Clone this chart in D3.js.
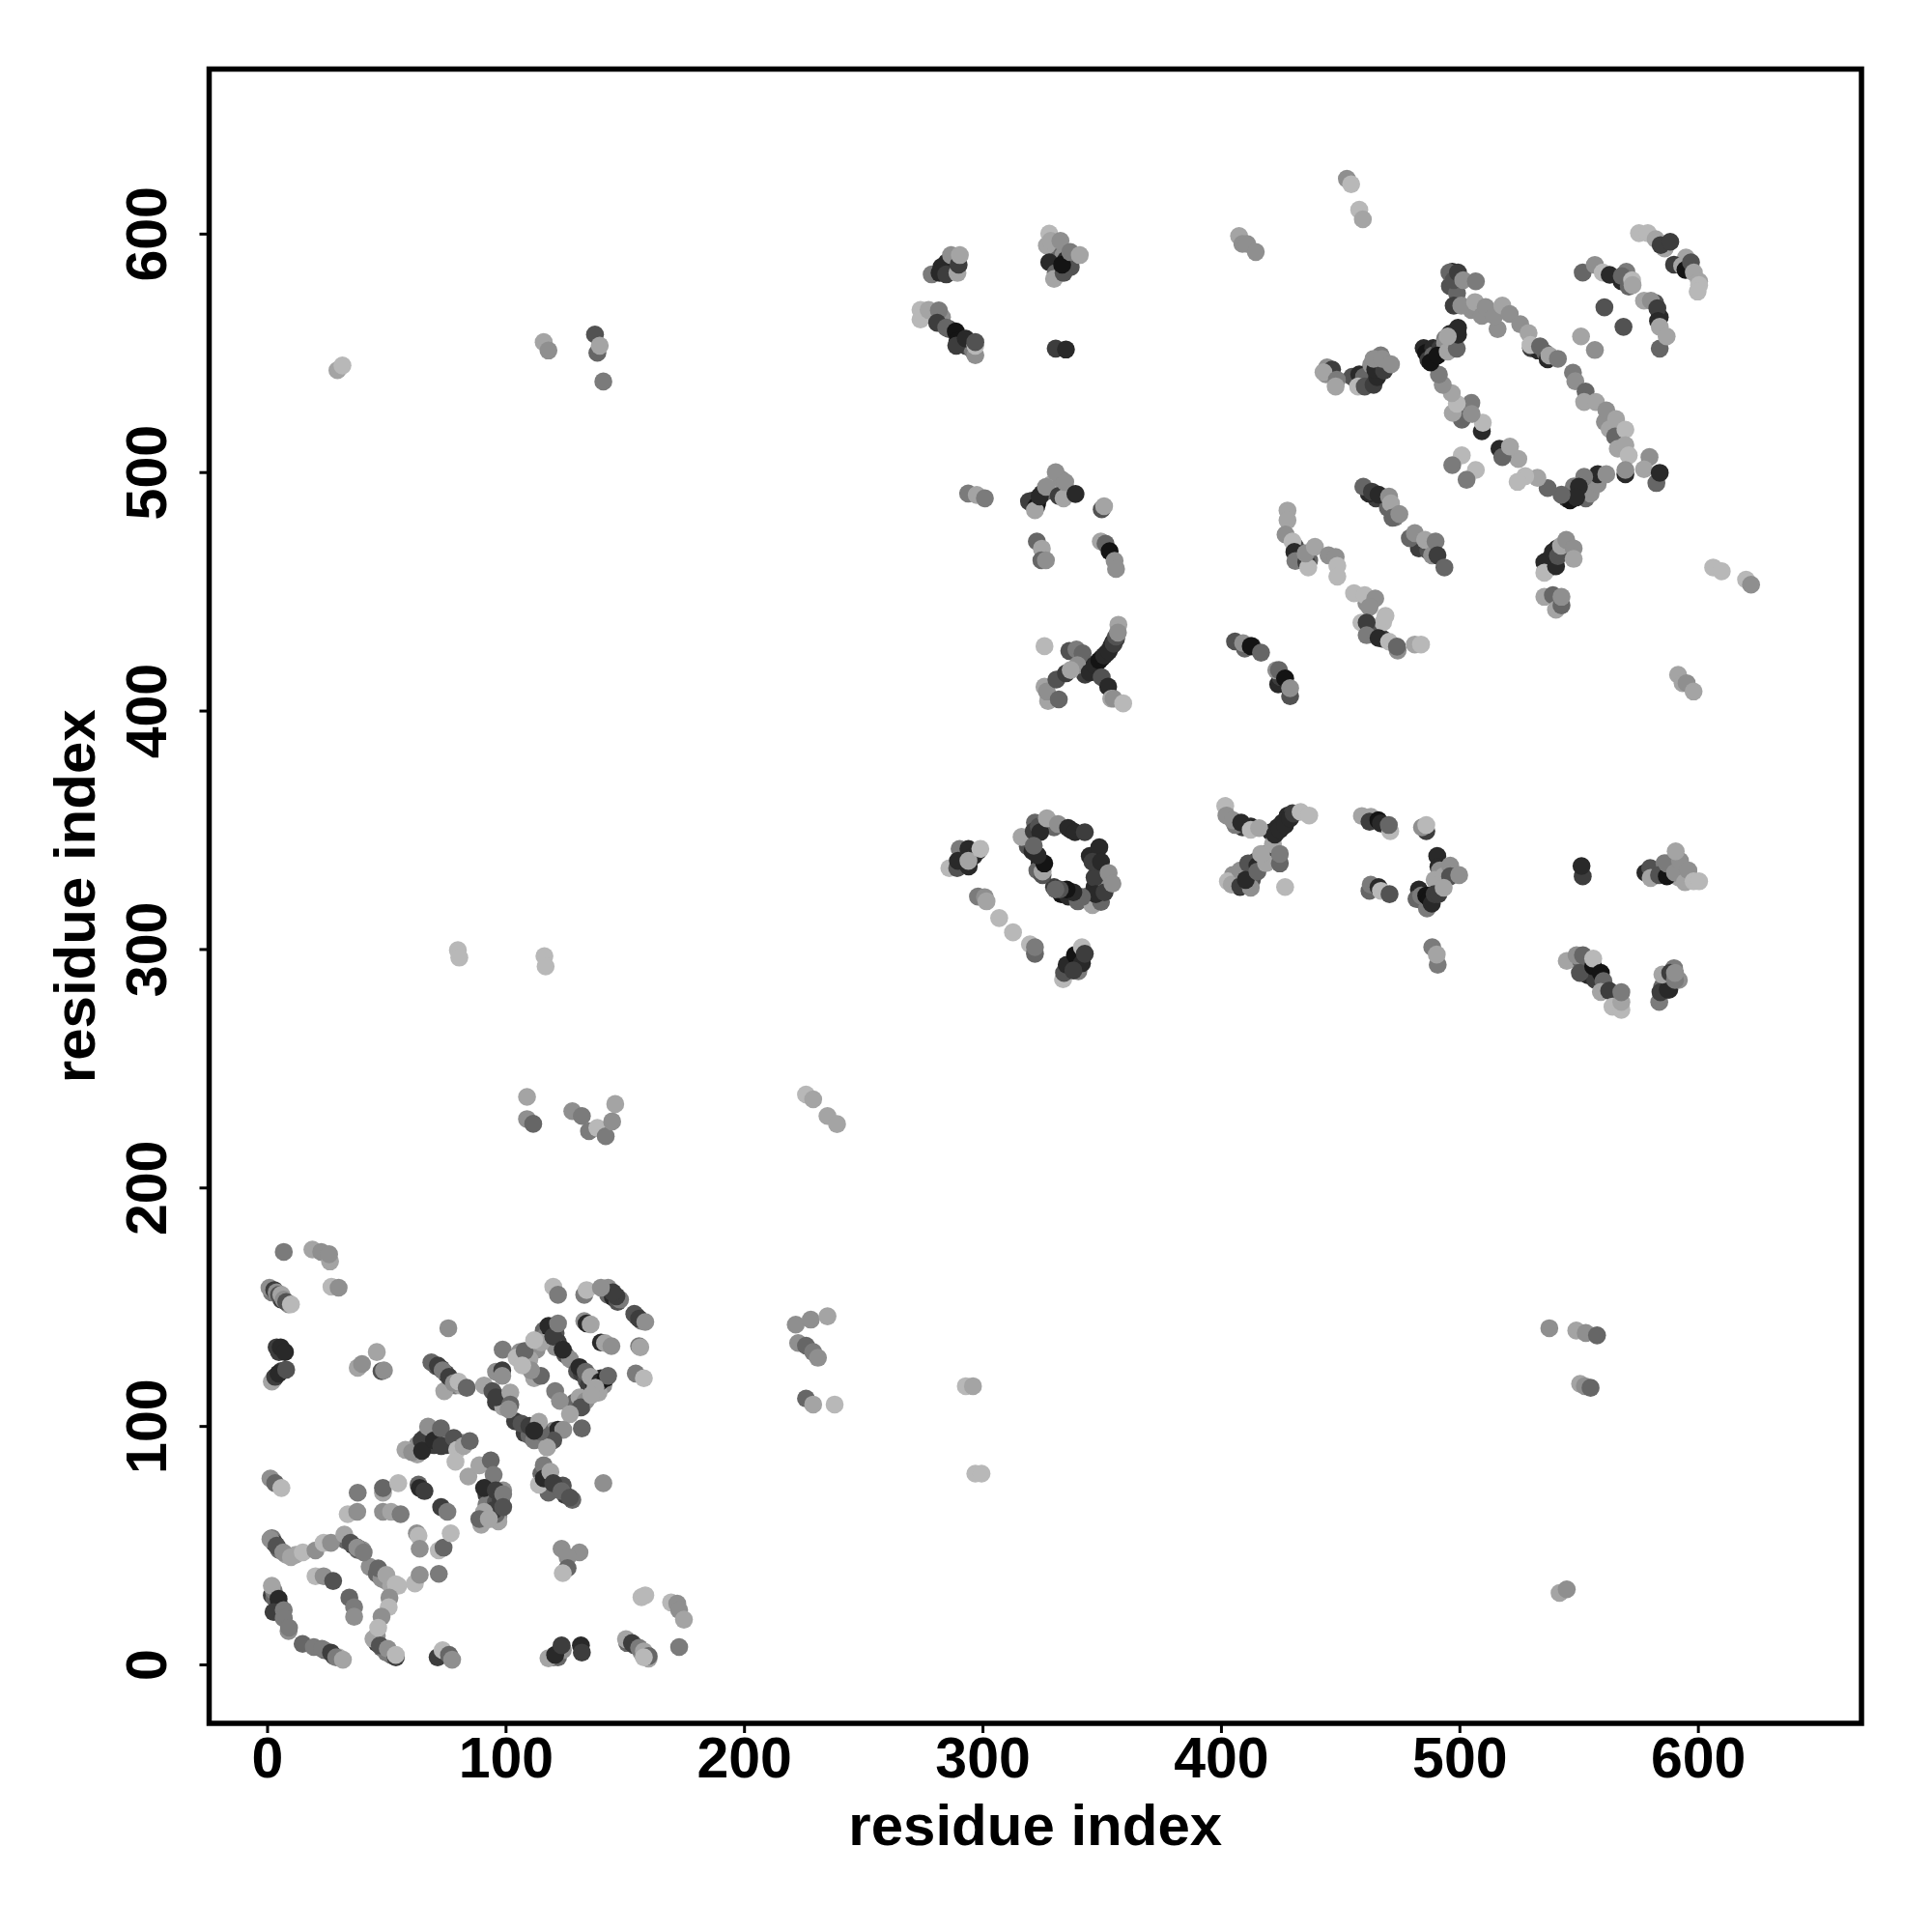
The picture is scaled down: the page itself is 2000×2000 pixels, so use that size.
<!DOCTYPE html>
<html><head><meta charset="utf-8">
<style>html,body{margin:0;padding:0;background:#fff}text{font-family:"Liberation Sans",Arial,sans-serif;font-weight:700;fill:#000}</style>
<script src="https://cdn.jsdelivr.net/npm/d3@7/dist/d3.min.js"></script>
</head><body><svg id="c" width="2000" height="2000"></svg>
<script>
// Each contact: [residue x, residue y, contact strength 1 (weak) .. 9 (strong)]
const tickValues=[0,100,200,300,400,500,600];
const axisTitle="residue index";
const stackedContacts=[[2,156,4],[6,153,7],[9,151,3],[3,120,6],[6,123,7],[5,131,7],[2,53,4],[3,51,7],[5,48,5],[8,46,2],[12,46,2],[36,50,7],[38,48,5],[40,48,3],[33,52,5],
[2,29,7],[3,28,5],[5,25,7],[6,21,6],[9,14,3],[24,6,5],[28,3.5,6],[30,3,1],[46,9,7],[48,7,5],[52,4,5],[46,12,3],[50,5,4],[151,9,5],[154,8,6],[157,5,3],[159,4,6],[160,2.5,2],
[71,125,6],[73,124,8],[75,122,6],[77,119,5],[79,117,4],[81,117,2],[66,95,6],[67,92,5],[69,97,4],[72,96,6],[75,92,7],[76,94,4],[79,92,3],[82,93,2],[63,92,3],[63,88,2],
[116,140,5],[117,138,4],[119,140,9],[121,139,6],[122,135,7],[125,130,6],[127,128,3],[121,133,3],[113,132,3],[115,135,2],[110,128,2],[106,131,3],
[143,155,5],[145,154,8],[147,152,6],[148,153,4],[155,146,5],[157,144,4],[130,123,6],[132,122,7],[134,119,6],[135,117,7],[137,118,8],[140,120,8],[141,117,3],[139,114,2],[132,108,4],[129,110,5],[131,112,2],
[124,75,6],[118,77,7],[121,74,8],[125,71,7],[128,69,5],[115,80,5],[118,72,5],[92,71,7],[94,69,3],[92,67,4],[96,68,6],[98,69,7],[99,73,3],[94,75,5],[97,62,3],[97,60,2],[96,63,5],
[96,110,7],[97,112,6],[100,112,3],[99,108,2],[104,102,7],[108,97,7],[110,96,5],[115,94,3],[118,96,6],[120,98,3],[112,94,4],
[43,41,3],[46,38,5],[48,36,3],[50,35,3],[52,33,2],[55,33,1],[122,3,5],[124,6,3],[120,3,5],[70,92,7],
[344,417,9],[346,418,8],[348,420,8],[350,422,9],[352,424,8],[354,427,8],[355,429,8],[356,430,7],[343,415,7],[283,585,9],[285,588,8],[288,590,4],[286,560,6],[291,556,8],[293,553,7],[295,552,6],[296,551,4],[279,566,5],[283,565,3],[330,594,3],[331,590,5],[334,591,3],[335,589,8],[337,586,6],[327,595,2],
[321,488,9],[323,487,8],[325,491,8],[327,492,5],[329,495,2],[333,497,3],[335,493,2],
[320,347,8],[322,353,5],[323,350,7],[319,343,6],[321,341,8],[324,336,9],[323,333,5],[330,326,7],[333,323,9],[336,322,8],[340,320,5],[344,322,7],[347,326,8],[350,329,4],[352,326,3],[347,330,7],[345,339,8],[337,350,8],[330,351,5],
[423.7,351,8],[425.8,353,8],[428,356,8],[430,357,7],[421,349,8],[409,351,7],[406,352,4],[412,333,4],[415,337,7],[419,340,5],[413,329,6],[405,331,3],[407,329,6],[408,326,8],
[483,325,8],[486,322,8],[488,321,9],[490,324,7],[492,327,3],[485,320,6],[482,321,5],[545,295,2],[552,290,9],[554,289,8],[555,292,8],[557,287,7],[553,296,3],[551,295,5],[586,286,8],[588,283,8],[585,284,5],[590,288,8],[592,287,3],[590,292,4],[578,332,8],[580,334,6],[586,336,4],[590,331,3],[592,330,2],[587,333,2],[596,332,3],
[485,552,8],[486,550,9],[489,552,8],[487,547,7],[489,549,5],[492,552,7],[494,556,4],[496,558,8],[494,554,3],[548,490,9],[550,492,8],[552,494,8],[553,489,5],[556,497,6],[555,491,3],[548,494,4],[545,489,7],[558,495,3],[502,526,6],[501,522,5],[505,529,4],
[455,540,6],[458,541,8],[462,542,8],[466,545,8],[460,540,5],[463,545,3],[444,541,3],[467,549,4],[496,578,6],[497,584,8],[499,575,5],[505,568,3],[516,560,3],[530,552,7],[533,551,8],[536,550,5],[561,521,3],[563,518,2],[586,594,5],[595,590,2],[568,580,8],[570,584,4],[584,565,8],[582,571,6],[590,587,7],
[537,463,7],[539,463,8],[541,468,8],[538,460,3],[536,459,2],[544,467,8],[465,489,7],[462,491,8],[470,485,5],[473,481,4],[483,468,7],[487,467,6],[434,466,8],[431,469,6],[437,463,5],[464,432,6],[468,430,7],[461,437,2],[461,445,3],[468,437,1],[413,427,8],[410,426,5],[424,411,8],[425,414,7]];
const domainCluster=[[7,173,4],[19,174,2],[22.7,173,3],[26.4,169,2],[26,172,3],[27,158.4,1],[30,158,3],[1,158,3],[3,157,7],[4,156,3],[5,155,6],[6,155,2],[7,153,3],[8,152,6],[10,151,1],
[4,133,7],[5.7,133,8],[7.5,131,8],[2,118.6,2],[3.4,120.6,7],[4.8,122,8],[8,123.6,6],[38,124.4,2],[39.8,126,3],[46,131,2],[48,123,6],[49,123.3,3],[76,141,3],
[68.9,126.7,5],[71.6,125.4,7],[73.6,123.3,4],[74.3,114.6,2],[76.3,120.6,7],[78.3,118,3],[80.3,118.6,1],[83.7,116,5],[91,117,2],[98.8,132,4],[96,122.7,3],[98.6,123.3,7],[98.6,121,3],
[104.6,128.7,1],[108,131.4,5],[112,136,1],[118,142,8],[120,137.5,7],[122,143,4],[124,132,8],[120,158.4,1],[122,155,4],[133,155,4],[134,157,1],[143,158,3],[146.5,154.4,7],[145,156,7],[140,158,3],
[154,147,6],[156,145,7],[158.6,143.6,3],[133,144,3],[134,143,8],[135.7,142.6,2],[140,135,8],[141.7,134.8,2],[144.4,133.5,3],[156,133.5,4],[156.5,133,2],[154.6,122,4],[158,120,1],
[131,124.7,8],[133.6,122.7,5],[135.7,120.6,2],[139.7,118.6,8],[142,120,9],[143,121,5],[137.7,116,2],[133.6,110.5,3],[131.6,107.8,6],[136,113,2],
[120.8,114.6,4],[122.8,110.5,3],[127,105,2],[132,99,5],[122,98.4,8],[124.2,98.4,3],[120,94,6],[117.4,91,2],[114.7,97.7,5],[112,120,2],[114.8,121,5],[110.7,123.3,3],[107,125.4,1],
[94.5,114.6,6],[96,112,7],[102,114,2],[102,109,5],[101.3,107,3],[106.7,101,6],[110,100,7],[114,101.8,2],[112,98,8],[116,83.5,4],[114,75.4,1],[116,78,8],[118.8,80.8,2],[120,76,7],[123.5,72.7,5],[127,70,6],[141,76,3],
[123.5,48.5,3],[131,47,3],[126,45,3],[126,40.4,5],[124,38.3,1],[157,28.2,1],[158.6,29,1],[169.4,26,1],[172,25.5,3],[172.8,22.8,3],[174.8,18.8,2],[172.8,7.3,4],
[150.5,10.6,2],[153,9,7],[156,7,4],[158,5.5,2],[160,3.5,5],[158,3,1],[118,2.6,2],[120.8,4,8],[123.5,8,7],[131.6,8,8],[132,5,7],[71.5,3,7],[73.6,6,1],[76.3,4,5],[77.6,2,3],
[44.6,10.7,2],[47.3,8,6],[50.6,6.6,3],[54,3,7],[54,4,1],[14.9,8.6,5],[19.6,7.3,4],[23,6.6,4],[26.8,5,7],[29,3,4],[31.8,2,2],
[2.8,30.9,4],[2,33,2],[4.8,27.5,8],[2.7,22,7],[7,22.8,4],[7,19.4,4],[9.2,15.4,4],[20.3,37,1],[23.7,37,3],[27.7,35,6],[34.5,28,5],[36.5,24,4],[36.5,20,3],
[46.6,40.3,5],[50,37.6,2],[54,33.6,1],[51.3,28,3],[51,24,1],[48,20,3],[46.6,15.4,1],[62,34,1],[64,37.6,3],[72,38,4],
[1.4,52.5,3],[4,49.8,6],[6.8,47,3],[10,45,2],[15,47,1],[20.3,47.8,3],[23.7,51,1],[26.8,51,3],[32.4,54.5,2],[35,51,6],[37.8,49,7],[37.8,49,3],[40.5,47,4],
[33.8,63,1],[37.8,64,3],[48.6,64,3],[52,64,2],[56,63,4],[62.8,55,3],[63.5,54,1],[64,48.5,3],[72,47.8,1],[74,49,5],[77,55,1],[38,72,4],[48.6,72,2],[48.6,74,5],[55,76,1],[63.5,75.4,5],[64,74,8],[66,72.7,7],[73,66,7],[75.6,64,4],
[1.4,78,3],[3.4,76,5],[6,74,1],[58,90,2],[60.8,89,3],[64.8,94,7],[65,89.6,8],[67.5,99.7,3],[70,94,8],[72.9,99,5],[73,91.6,7],[78.3,95,6],[79.7,90,1],[82.4,91.6,2],[85,93.7,5],[79,85,1],
[84.4,78.8,2],[89,83.5,2],[93.8,85.6,5],[95,79.5,4],[91,74,8],[95.9,73,7],[99,71.4,4],[95,64.6,7],[91,64,2],[99,66,6],[89.8,58.6,2],[89,61,5],[93,61,2]];
const farContactsLow=[[109,238,2],[109,228.7,3],[111.6,226.7,5],[128,232,3],[132,230,4],[135,223.6,4],[138.5,225,1],[142,221.5,4],[144.7,227.7,3],[146,235,2],
[226,239,1],[229,237,2],[235,230,2],[239,226.6,2],[221.7,142.5,3],[228,144.6,3],[235,146,2],[222.7,134.8,3],[226,133.7,5],[229,131,4],[231,128.6,3],[226,111.5,5],[229,109,2],[238,109,1],
[29.5,542.7,2],[31.6,544.7,1],[116,554.5,2],[118,551,3],[137.5,557.7,6],[138.5,550,5],[139.5,553,2],[141,538,4],[80,299.5,1],[80.6,296.4,1],[116.3,297,1],[116.8,292.7,1],
[293,116.7,1],[296,116.7,2],[297,80,1],[299.6,80,1],[537.7,141,3],[549,140,2],[553,139,3],[557.7,138,5],[550.6,117.7,2],[552.6,116.7,3],[555,116,5],[542,30,2],[545,31.5,3]];
const upperLeftContacts=[[278.7,582.9,4],[282.8,586,8],[282,583.5,8],[284.8,582.9,7],[286.8,591,3],[289.5,583.5,2],[290,587,7],[290.5,591,2],
[274,568,1],[274,564,1],[277.4,568,2],[281.7,567.8,4],[281,562.6,7],[284.8,560.6,5],[288.8,559,9],[289.5,555,9],[289,553,7],[293,556,8],[297,549,3],[297,553,1],[297,554.5,6],
[328,588,8],[330.7,583.5,5],[330,581,2],[334,583.5,6],[333.4,587,9],[328,600,1],[328.6,597,2],[332.7,597,3],[336.8,592.3,4],[340.8,591,2],[330.7,551.8,7],[335,551.4,8],
[407.6,599,2],[409,595.7,3],[411,595.7,3],[414.6,592.3,3],[452.8,623,3],[454.6,620.7,1],[458,610,1],[459.5,606,2],
[294,491,4],[297.6,490.4,2],[301,489,4],[319.5,487.7,7],[322.6,485.7,9],[322,484,2],[324,489.8,8],[326.6,493.8,3],[330.7,500,3],[332,490,7],[334,489,2],[334.7,495.8,3],[339,490.8,8],
[350,484.4,6],[351,485.7,2],[322.8,470.9,5],[324.9,467.9,2],[324.7,463,5],[326.6,463,3],[349.6,470.9,2],[351.6,470,5],[353.3,466.8,9],[355.4,462.8,3],[356,459.4,3],[326,427,1]];
const crossContacts=[[327.5,404,2],[326,410,2],[327,408,3],[331,413,6],[332,404.7,5],[335,415.6,7],[336.4,425,6],[339.4,425.6,4],[342,424,5],[339.8,419,3],[337,417,2],
[345,416,8],[347,419,8],[349,421,9],[351,423,8],[353,425,8],[355,428,7],[356,431,6],[357,436,2],[356.8,432.7,3],[350,414,6],[352.7,410,8],[354,405,2],[355,405,3],[359,403,1],
[286.1,333.9,1],[289.4,333.9,6],[290.4,342,4],[289.7,337,8],[294.2,334.6,8],[294.1,342,8],[296.3,339,8],[298.4,341.3,8],[294.1,337,2],[299.1,342,1],
[298.1,322,4],[301,321.7,3],[301.7,320,2],[307,313,1],[312.8,307,1],[319.9,302,1],[322,298,5],[322,300.8,4],[333.8,287.3,1],[334.2,290,6],[335.3,293.4,8],[340.2,290.7,4],[338.8,297.5,9],[341.7,300.8,1],[341.7,294,8],[342.9,298,7],[338.1,291,7]];
const ringContacts=[[316.4,347,2],[321.5,349.4,7],[323.6,351.4,6],[324.2,349,8],[327,354.8,2],[331.7,352.4,3],[335.9,350.8,8],[338.8,349,8],[342.9,349,7],[349,342.7,8],[346.1,336.6,7],[349.7,336.6,8],
[346.1,318.4,2],[349.7,319.7,5],[347.5,323,8],[351.2,323.8,7],[352.9,331.9,3],[354.5,327.4,3],[341.7,321.8,5],[338.1,323.8,8],[335.3,325,9],[332.4,325,6],[330.6,325,5],[325.2,331,6],[325.2,332.5,2],[325.9,335.9,9],[323.1,339.3,8],[321.5,343.3,5]];
const crossBContacts=[[401.8,360,1],[402.3,356,3],[405,354,3],[408.5,353,8],[412.5,351.4,8],[412.5,350,1],[416,350.7,2],[402.9,328.4,1],[404.5,327,2],[408.1,326.4,7],[412.5,325.7,3],[408.1,333,3],[411.4,335.9,6],[410.4,329,8],[415.3,335,8],[415.3,332.5,5],[418.9,337.9,7],[418.9,336,2],[416.8,339.9,2],[421.8,344,2],[424.7,335.9,5],[424.7,339.9,4],[426.9,326,1],
[422.6,348,8],[424.7,350,8],[426.9,352,8],[429,354.8,8],[430.5,356.8,7],[433.4,357.5,1],[437,356,1],
[459.1,355.8,2],[462.9,355.4,2],[462.3,353.4,7],[466,354,9],[467.1,352.7,8],[471,349.4,1],[470.4,352,5],[486.1,349.4,7],[484.3,351,3],[486.1,352,1],
[462.3,324.4,5],[462.8,327,4],[466.1,326,8],[467.1,324.4,1],[470.7,323,6],[490.7,339,8],[491.2,334.5,8],[491.8,333,3],[489.6,329,2],[493.4,330.5,2],[496.1,335,3],[496.1,330.5,6],[499.9,331,3],
[484,322.4,4],[486.4,317,4],[486.1,322.4,9],[487.5,321,9],[488.4,319,8],[489.6,323,7],[491.2,323,7],[493.4,325.7,2],[488.6,300.8,4],[490.9,293.4,4],[490.5,297.7,2],
[551.7,330.5,7],[551.2,334.8,8],[580.2,329.8,2],[583.7,331,6],[587,330.5,9],[587,335.9,4],[590.4,332,3],[592.5,337,3],[590.7,341,2],[594.6,328,2],[596,333,3],[598.2,328.4,1],[600.5,328.4,1],
[549.1,297.4,3],[550.5,290,6],[551.8,297.4,5],[556.1,292.7,9],[556.1,296,1],[559.3,290,9],[560.4,286.6,5],[559.3,282,2],[562.8,282.5,7],[564.2,275.8,1],[567.9,274.5,1],[567.9,277.8,2],[567.9,281.9,4],
[583.8,277.8,4],[584.3,281.9,7],[587.4,283,8],[585.1,289.3,2],[588.4,290,7],[590.4,287,4],[590.4,290,3]];
const helixContacts=[[405.9,429,6],[409.3,428.3,3],[412.5,427,9],[416.8,424.3,5],[423.2,416.9,3],[424.3,417,5],[426.9,413.5,9],[429,406,6],[429,409.4,3],[591.7,415,2],[593.6,411.5,2],[595.3,411.5,3],[598.2,408,2],
[427.9,483.9,2],[427.9,479.8,2],[427.1,473.8,3],[430,470.9,1],[430.8,466.5,8],[431.2,462.7,4],[435.8,462.2,7],[436.6,460,1],[435.5,465.9,3],[439.4,468.7,2],[445.1,465.1,3],[448.1,464.4,3],[448.8,460.7,1],[448.8,456.2,1],
[455.8,449.2,1],[460.3,448.4,1],[464.7,447,3],[462.3,443.4,3],[469,439.7,1],[458.9,436.9,1],[461.1,436.9,7],[461.1,431.6,4],[466.1,430.4,8],[470.5,428.9,1],[474.1,425.2,3],[473.8,426.8,5],[481.3,427.7,2],[483.9,427.7,1],
[459.7,493.9,5],[463.3,491.8,7],[466.1,490.5,8],[470.5,489.7,3],[471.3,486.9,2],[471.9,480.9,5],[474.8,482.4,3],[479.2,472.3,5],[481.3,474.4,3],[485.6,471.6,2],[488.5,465.1,3],[490,470.9,4],[490.8,465.1,7],[493.7,460,5],
[535.6,462.2,8],[535.6,457.8,1],[539.2,466.5,8],[540.5,460.5,8],[541.3,464.8,6],[542.6,469.1,2],[544.8,471.6,3],[547.9,468,3],[547.9,463.6,2],[535.6,447.7,2],[539.2,448.4,5],[540.5,442.3,2],[542.8,444.1,5],[542.8,447.7,3],
[606.4,460,1],[610,458.4,1],[620.2,454.9,1],[622.3,452.8,3]];
const upperRightContacts=[[575.3,600.2,1],[579,600.2,1],[582.3,597.7,2],[586.1,593.8,2],[584.4,595.2,7],[588.4,596.6,7],[593.4,586.5,2],[594.8,584.8,9],[597.1,588,6],[598.3,583.7,2],[600.5,580,2],[600.5,578.4,1],[599.9,575.7,1],
[551.7,583.7,5],[556.8,586.9,3],[560.1,583.7,1],[563,582.7,8],[568.1,582.2,5],[571,577.8,5],[572.4,580.5,1],[572.6,578.4,2],[560.8,569.1,6],[568.8,560.9,6],[551,556.9,2],[556.8,551.2,3],
[577.4,571.9,2],[580.3,571.9,3],[583,568.7,7],[583.3,563.4,8],[584,560.9,2],[584,551.8,5],[586.9,556.9,2],
[495.8,583.7,5],[497.6,580.5,6],[499.4,583.7,7],[501.6,580.5,3],[506.9,580,4],[497.6,569.8,7],[500.8,569.8,3],[506.6,571.3,2],[509.4,565.5,3],[511,569.2,3],[514.6,565.5,3],[518,569.8,2],[521.1,566.3,3],[525.5,562,3],[529,558.3,2],[529.8,553.3,1],[533.8,552.7,5],[537,547.3,8],[537.7,548.9,2],[541.3,547.5,4],
[547.6,541.7,4],[548.6,538.1,3],[552.9,533.8,5],[552.3,529.4,2],[557.2,529.4,2],[561.6,525.9,3],[565.7,522.2,2],[565.3,514.9,5],[569.6,517.8,1],[566.4,509.8,2],[569.6,511.3,2],[571,507,1],[569.6,499.1,8],[569.6,500.9,3],
[558,499.1,8],[561.6,499.1,3],[552.3,498,4],[550.1,493.9,8],[546.4,488.2,9],[549,489.4,8],[542.8,490.5,5],[537,493.3,5],[532.7,497.6,2],[527.6,498.3,1],[524.4,495.9,1],[524.7,505.5,2],[516.8,509.8,8],[518,506.3,5],[521.2,510.7,2],
[509.4,517.1,8],[509.8,520.7,1],[505.1,524.4,3],[497.2,524.8,2],[498.9,528.7,1],[496.8,533.1,2],[493,536.6,3],[491.4,540.9,4],[487.9,546,9],[490.8,548.9,9],[495.1,550.5,2],[498.9,551.8,5],[499.4,557.6,8],[499.4,560.5,8],[495.1,556.9,2],
[579.7,506.3,3],[577.4,501.2,2],[582.6,495.4,5],[584,499.7,8],[501,507,1],[497,502.9,4],[506.9,500.9,1],[503,496.8,4],
[444.5,543.9,3],[446.6,543,7],[443,541.9,2],[448.6,538.7,4],[448.1,535.9,2],[457.5,535.9,1],[460.3,535.9,6],[464,536.6,7],[465.5,539.8,8],[464.7,543,8],[468.4,542.5,7],[464,547.5,3],[467.6,547.5,3],[471.3,545.2,3]];
const allContacts=[stackedContacts,domainCluster,farContactsLow,upperLeftContacts,crossContacts,ringContacts,crossBContacts,helixContacts,upperRightContacts].flat();

const svg=d3.select("#c");
const plotL=216.5,plotR=1927,plotT=71.5,plotB=1784;
const x=d3.scaleLinear().domain([-24.3,668.6]).range([plotL,plotR]);
const y=d3.scaleLinear().domain([-24.7,669]).range([plotB,plotT]);
const grey=d3.scaleLinear().domain([1,9]).range([184,20]);
const col=v=>{const g=Math.round(grey(v));return `rgb(${g},${g},${g})`};
svg.append("g").selectAll("circle").data(allContacts).join("circle")
 .attr("cx",d=>x(d[0])).attr("cy",d=>y(d[1])).attr("r",9.3).attr("fill",d=>col(d[2]));
svg.append("rect").attr("x",plotL).attr("y",plotT).attr("width",plotR-plotL).attr("height",plotB-plotT).attr("fill","none").attr("stroke","#000").attr("stroke-width",5.5);
const ax=svg.append("g").attr("transform",`translate(0,${plotB})`).call(d3.axisBottom(x).tickValues(tickValues).tickSize(10).tickPadding(0));
const ay=svg.append("g").attr("transform",`translate(${plotL},0)`).call(d3.axisLeft(y).tickValues(tickValues).tickSize(10).tickPadding(0));
[ax,ay].forEach(a=>{a.select(".domain").remove();a.selectAll("line").attr("stroke","#000").attr("stroke-width",3);a.selectAll("text").attr("font-size",59).attr("font-family","Liberation Sans").attr("font-weight",700).attr("fill","#000")});
ax.selectAll("text").attr("y",56).attr("dy",0);
ay.selectAll("text").attr("transform","rotate(-90)").attr("text-anchor","middle").attr("x",0).attr("y",-45).attr("dy",0);
svg.append("text").attr("x",(plotL+plotR)/2).attr("y",1910).attr("text-anchor","middle").attr("font-size",60).text(axisTitle);
svg.append("text").attr("transform",`translate(98,${(plotT+plotB)/2}) rotate(-90)`).attr("text-anchor","middle").attr("font-size",60).text(axisTitle);
</script></body></html>
